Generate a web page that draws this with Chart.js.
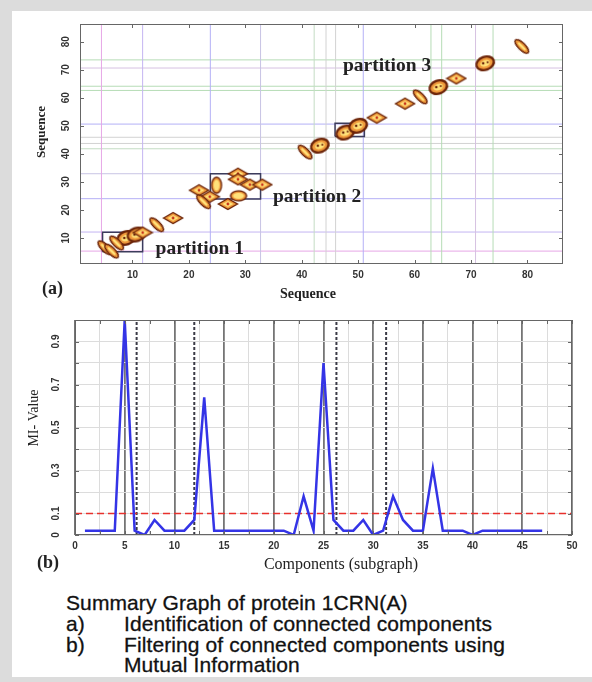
<!DOCTYPE html>
<html>
<head>
<meta charset="utf-8">
<script src="https://cdn.jsdelivr.net/npm/chart.js@4.4.1/dist/chart.umd.min.js"></script>
<style>
  html, body { margin: 0; padding: 0; background: #dcdcdc; }
  #page { position: relative; width: 592px; height: 682px; overflow: hidden; }
  #inner { position: absolute; left: 12px; top: 11px; width: 580px; height: 666px; background: #fff; }
  canvas { position: absolute; left: 0; }
  #chartA { top: 0; }
  #chartB { top: 302px; }
  .cap { position: absolute; font-family: "Liberation Sans", Arial, sans-serif; font-size: 21px; letter-spacing: 0.1px;
         color: #111; white-space: nowrap; line-height: 20px; -webkit-text-stroke: 0.3px #111; }
</style>
</head>
<body>
<div id="page">
  <div id="inner"></div>
  <canvas id="chartA" width="592" height="302"></canvas>
  <canvas id="chartB" width="592" height="288"></canvas>
  <div class="cap" style="left:66px;top:593px">Summary Graph of protein 1CRN(A)</div>
  <div class="cap" style="left:66px;top:614px">a)</div>
  <div class="cap" style="left:124px;top:614px">Identification of connected components</div>
  <div class="cap" style="left:66px;top:635px">b)</div>
  <div class="cap" style="left:124px;top:635px">Filtering of connected components using</div>
  <div class="cap" style="left:124px;top:655px">Mutual Information</div>
</div>
<script>
// ---- (a) contact map: contour peaks along the diagonal, by contour shape
const pillX = [5.1, 6.3, 7.2, 14.3, 22.6, 40.6, 61.0, 79.0];
const pillY = [6.5, 5.3, 8.2, 14.7, 22.9, 40.6, 60.3, 78.3];
const diamondX = [11.8, 17.2, 21.8, 23.7, 26.9, 28.7, 28.7, 30.8, 33.0, 53.3, 58.3, 67.4];
const diamondY = [11.9, 17.1, 27.0, 24.7, 22.1, 32.9, 30.9, 29.0, 29.0, 52.9, 57.9, 66.9];
const blobX = [8.9, 10.7, 43.2, 47.7, 50.0, 64.2, 72.5];
const blobY = [10.0, 11.2, 42.9, 47.6, 50.0, 63.8, 72.3];
const ovalX = [24.9, 28.8];
const ovalY = [28.8, 25.0];

// component boundaries drawn across the map
const cutX = [4.5, 11.8, 23.8, 32.7, 42.2, 44.3, 46.0, 50.9, 62.9, 64.8, 70.8, 73.9];
const cutY = [5.3, 12.1, 24.0, 32.9, 41.8, 43.7, 45.9, 50.6, 62.6, 64.1, 70.6, 73.5];

// partitions (boxes)
const partitionNames = ["partition 1", "partition 2", "partition 3"];
const boxLeft = [4.7, 23.8, 45.9];
const boxRight = [11.8, 32.7, 51.1];
const boxBottom = [5.1, 23.9, 46.2];
const boxTop = [12.0, 32.9, 50.9];
const seqTicks = [10, 20, 30, 40, 50, 60, 70, 80];
const seqMin = 0.7, seqMax = 86.3;

// ---- (b) MI value per component
const components = [1, 2, 3, 4, 5, 6, 7, 8, 9, 10, 11, 12, 13, 14, 15, 16, 17, 18, 19, 20, 21, 22, 23, 24,
  25, 26, 27, 28, 29, 30, 31, 32, 33, 34, 35, 36, 37, 38, 39, 40, 41, 42, 43, 44, 45, 46, 47];
const miValues = [0.02, 0.02, 0.02, 0.02, 1.0, 0.02, 0.0, 0.07, 0.02, 0.02, 0.02, 0.07, 0.64, 0.02, 0.02, 0.02,
  0.02, 0.02, 0.02, 0.02, 0.02, 0.0, 0.18, 0.02, 0.80, 0.07, 0.02, 0.02, 0.07, 0.0, 0.02, 0.18,
  0.07, 0.02, 0.02, 0.31, 0.02, 0.02, 0.02, 0.0, 0.02, 0.02, 0.02, 0.02, 0.02, 0.02, 0.02];
const miThreshold = 0.1;
const partitionCuts = [6.2, 12.0, 26.3, 31.3];
const compTicks = [0, 5, 10, 15, 20, 25, 30, 35, 40, 45, 50];
const miTicks = [0, 0.1, 0.3, 0.5, 0.7, 0.9];

const pts = (xs, ys) => xs.map((x, i) => ({ x, y: ys[i] }));

// contour glyphs
const BROWN = "#6b2308", ORANGE = "#f09a3c", YELLOW = "#ffe27a", RED = "#c8301a";
function glyph(w, h, draw) {
  const c = document.createElement("canvas");
  c.width = w; c.height = h;
  draw(c.getContext("2d"), w / 2, h / 2);
  return c;
}
const pillImg = glyph(22, 10, (g, cx, cy) => {
  g.beginPath(); g.ellipse(cx, cy, 9, 3.6, 0, 0, 2 * Math.PI);
  g.fillStyle = ORANGE; g.fill(); g.lineWidth = 1.5; g.strokeStyle = BROWN; g.stroke();
  g.beginPath(); g.ellipse(cx, cy, 5.5, 1.3, 0, 0, 2 * Math.PI); g.fillStyle = YELLOW; g.fill();
});
const diamondImg = glyph(22, 14, (g, cx, cy) => {
  const rh = (sx, sy) => { g.beginPath(); g.moveTo(cx - sx, cy); g.lineTo(cx, cy - sy); g.lineTo(cx + sx, cy); g.lineTo(cx, cy + sy); g.closePath(); };
  rh(9.5, 5.5); g.fillStyle = ORANGE; g.fill(); g.lineWidth = 1.4; g.strokeStyle = BROWN; g.stroke();
  rh(5.5, 3); g.fillStyle = YELLOW; g.fill();
  g.beginPath(); g.arc(cx, cy, 1.4, 0, 2 * Math.PI); g.fillStyle = RED; g.fill();
});
const blobImg = glyph(22, 18, (g, cx, cy) => {
  g.beginPath(); g.ellipse(cx, cy, 9, 6.5, -0.35, 0, 2 * Math.PI);
  g.fillStyle = ORANGE; g.fill(); g.lineWidth = 2.4; g.strokeStyle = BROWN; g.stroke();
  g.beginPath(); g.ellipse(cx, cy, 5, 3.2, -0.35, 0, 2 * Math.PI); g.fillStyle = YELLOW; g.fill();
  g.fillStyle = BROWN;
  g.beginPath(); g.arc(cx - 2, cy, 1.3, 0, 2 * Math.PI); g.fill();
  g.beginPath(); g.arc(cx + 2.5, cy - 1, 1.1, 0, 2 * Math.PI); g.fill();
});
const ovalImg = glyph(14, 20, (g, cx, cy) => {
  g.beginPath(); g.ellipse(cx, cy, 5, 8, 0, 0, 2 * Math.PI);
  g.fillStyle = ORANGE; g.fill(); g.lineWidth = 1.3; g.strokeStyle = BROWN; g.stroke();
  g.beginPath(); g.ellipse(cx, cy, 3, 5.5, 0, 0, 2 * Math.PI); g.fillStyle = YELLOW; g.fill();
});

// frame, inward tick marks and free text
const decor = {
  id: "decor",
  afterDraw(chart, args, o) {
    const { ctx, chartArea: a } = chart;
    const sx = chart.scales.x, sy = chart.scales.y;
    ctx.save();
    ctx.strokeStyle = o.frame; ctx.lineWidth = 1;
    ctx.strokeRect(a.left + 0.5, a.top + 0.5, a.width - 1, a.height - 1);
    ctx.beginPath();
    sx.ticks.forEach(t => {
      const p = Math.round(sx.getPixelForValue(t.value)) + 0.5;
      ctx.moveTo(p, a.bottom); ctx.lineTo(p, a.bottom - 4);
      ctx.moveTo(p, a.top); ctx.lineTo(p, a.top + 4);
    });
    sy.ticks.forEach(t => {
      const p = Math.round(sy.getPixelForValue(t.value)) + 0.5;
      ctx.moveTo(a.left, p); ctx.lineTo(a.left + 4, p);
      ctx.moveTo(a.right, p); ctx.lineTo(a.right - 4, p);
    });
    ctx.stroke();
    ctx.fillStyle = "#222";
    (o.texts || []).forEach(t => {
      ctx.save();
      const x = t.data ? sx.getPixelForValue(t.x) : t.x;
      const y = t.data ? sy.getPixelForValue(t.y) : t.y;
      ctx.translate(x, y);
      if (t.rot) ctx.rotate(t.rot);
      ctx.font = t.font;
      ctx.textAlign = t.align || "center";
      ctx.textBaseline = "middle";
      ctx.fillText(t.text, 0, 0);
      ctx.restore();
    });
    ctx.restore();
  }
};

const tickFont = { family: "Liberation Sans", weight: "bold", size: 10 };
const serif = "'Liberation Serif', 'Times New Roman', serif";
const cutColors = ["#e6a6e6", "#c4b4f2", "#b4b0f6", "#c8c4e4", "#c4dcc4", "#d2d2d2",
  "#d2d2d2", "#b4b0f6", "#b6dcb6", "#b6dcb6", "#d6c2e2", "#b6dcb6"];

const lineSet = (data, color, width, dash) => ({
  data, showLine: true, pointRadius: 0, borderColor: color, borderWidth: width,
  borderDash: dash || [], fill: false, tension: 0
});

// ---- chart (a)
new Chart(document.getElementById("chartA"), {
  type: "scatter",
  data: {
    datasets: [
      { data: pts(pillX, pillY), pointStyle: pillImg, pointRotation: 45 },
      { data: pts(diamondX, diamondY), pointStyle: diamondImg, pointRotation: 0 },
      { data: pts(blobX, blobY), pointStyle: blobImg },
      { data: pts(ovalX, ovalY), pointStyle: ovalImg, pointRotation: [0, 90] },
      ...boxLeft.map((l, i) => lineSet([
        { x: l, y: boxBottom[i] }, { x: boxRight[i], y: boxBottom[i] }, { x: boxRight[i], y: boxTop[i] },
        { x: l, y: boxTop[i] }, { x: l, y: boxBottom[i] }], "#3c3c5c", 1.5)),
      ...cutX.map((c, i) => lineSet([{ x: c, y: seqMin }, { x: c, y: seqMax }], cutColors[i], 1)),
      ...cutY.map((c, i) => lineSet([{ x: seqMin, y: c }, { x: seqMax, y: c }], cutColors[i], 1))
    ]
  },
  options: {
    responsive: false, animation: false, events: [],
    layout: { padding: { top: 24, right: 29, left: 0, bottom: 0 } },
    plugins: {
      legend: { display: false }, tooltip: { enabled: false },
      decor: {
        frame: "#666",
        texts: [
          { text: "Sequence", x: 42, y: 132, rot: -Math.PI / 2, font: "bold 13px " + serif },
          { text: "Sequence", x: 308, y: 294, font: "bold 14px " + serif },
          { text: "(a)", x: 42, y: 289, align: "left", font: "bold 18px " + serif },
          { text: partitionNames[0], x: 14.1, y: 5.9, data: true, align: "left", font: "bold 19.5px " + serif },
          { text: partitionNames[1], x: 34.9, y: 24.6, data: true, align: "left", font: "bold 19.5px " + serif },
          { text: partitionNames[2], x: 47.3, y: 71.5, data: true, align: "left", font: "bold 19.5px " + serif }
        ]
      }
    },
    scales: {
      x: {
        type: "linear", min: seqMin, max: seqMax,
        afterBuildTicks: s => { s.ticks = seqTicks.map(v => ({ value: v })); },
        afterFit: s => { s.height = 38; },
        grid: { display: false, drawTicks: false }, border: { display: false },
        ticks: { font: tickFont, color: "#333", padding: 5, maxRotation: 0, autoSkip: false }
      },
      y: {
        type: "linear", min: seqMin, max: seqMax,
        afterBuildTicks: s => { s.ticks = seqTicks.map(v => ({ value: v })); },
        afterFit: s => { s.width = 80; },
        grid: { display: false, drawTicks: false }, border: { display: false },
        ticks: { font: tickFont, color: "#333", padding: 8, minRotation: 90, maxRotation: 90, crossAlign: "center", autoSkip: false }
      }
    }
  },
  plugins: [decor]
});

// ---- chart (b)
const near = (list, v) => list.some(t => Math.abs(t - v) < 1e-6);
new Chart(document.getElementById("chartB"), {
  type: "scatter",
  data: {
    datasets: [
      lineSet(pts(components, miValues), "#3434e6", 2.5),
      lineSet([{ x: 0, y: miThreshold }, { x: 50, y: miThreshold }], "#e8302c", 1.5, [7, 4]),
      ...partitionCuts.map(c => lineSet([{ x: c, y: 0 }, { x: c, y: 1 }], "#3a3a46", 2, [3, 2]))
    ]
  },
  options: {
    responsive: false, animation: false, events: [],
    layout: { padding: { top: 7, right: 20, left: 0, bottom: 0 } },
    plugins: {
      legend: { display: false }, tooltip: { enabled: false },
      decor: {
        frame: "#666",
        texts: [
          { text: "MI- Value", x: 34, y: 116, rot: -Math.PI / 2, font: "14px " + serif },
          { text: "Components (subgraph)", x: 341, y: 263, font: "16px " + serif },
          { text: "(b)", x: 37, y: 261, align: "left", font: "bold 18px " + serif }
        ]
      }
    },
    scales: {
      x: {
        type: "linear", min: 0, max: 50,
        afterFit: s => { s.height = 55; },
        grid: {
          drawTicks: false,
          color: c => (c.tick.value % 5 === 0 ? "#757575" : "#dcdcdc"),
          lineWidth: c => (c.tick.value % 5 === 0 ? 1.8 : 1)
        },
        border: { display: false },
        ticks: {
          stepSize: 2.5, font: tickFont, color: "#333", padding: 5, maxRotation: 0, autoSkip: false,
          callback: v => (near(compTicks, v) ? String(v) : "")
        }
      },
      y: {
        type: "linear", min: 0, max: 1,
        afterFit: s => { s.width = 75; },
        grid: { drawTicks: false, color: "#dcdcdc" },
        border: { display: false },
        ticks: {
          stepSize: 0.1, font: tickFont, color: "#333", padding: 12, minRotation: 90, maxRotation: 90,
          crossAlign: "center", autoSkip: false,
          callback: v => (near(miTicks, v) ? String(Math.round(v * 10) / 10) : "")
        }
      }
    }
  },
  plugins: [decor]
});
</script>
</body>
</html>
